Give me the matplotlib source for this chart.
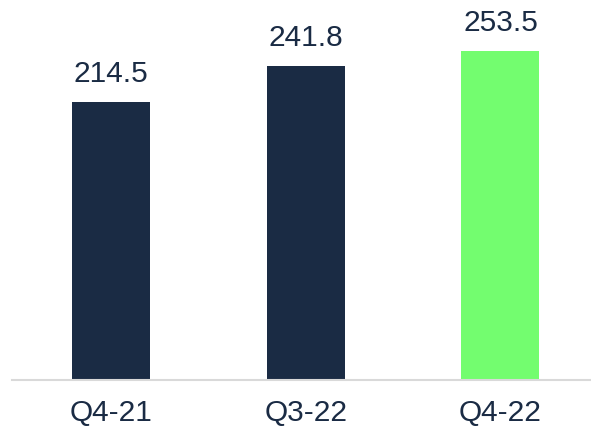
import matplotlib
matplotlib.use("Agg")
import matplotlib.pyplot as plt

plt.rcParams['font.family'] = ['Liberation Sans', 'DejaVu Sans']

categories = ["Q4-21", "Q3-22", "Q4-22"]
values = [214.5, 241.8, 253.5]
colors = ["#1a2b44", "#1a2b44", "#73fd6f"]

text_color = "#1a2b44"

fig = plt.figure(figsize=(5.91, 4.33), dpi=100)
ax = fig.add_axes([12 / 591, 53 / 433, 579 / 591, 380 / 433])

x = range(len(categories))
bars = ax.bar(x, values, width=0.4, color=colors)

# value labels above bars
for xi, v in zip(x, values):
    ax.annotate(f"{v:.1f}", (xi, v), xytext=(0, 10), textcoords="offset points",
                ha="center", va="bottom", fontsize=21.5, color=text_color)

ax.set_xlim(-0.508, 2.465)
ax.set_ylim(0, 292.8)
ax.set_xticks(list(x))
ax.set_xticklabels(categories, fontsize=21.5, color=text_color)
ax.tick_params(axis="x", length=0, pad=14)
ax.set_yticks([])

for s in ["top", "right", "left"]:
    ax.spines[s].set_visible(False)
ax.spines["bottom"].set_color("#d9d9d9")
ax.spines["bottom"].set_linewidth(1.5)

fig.savefig("out.png", dpi=100)
